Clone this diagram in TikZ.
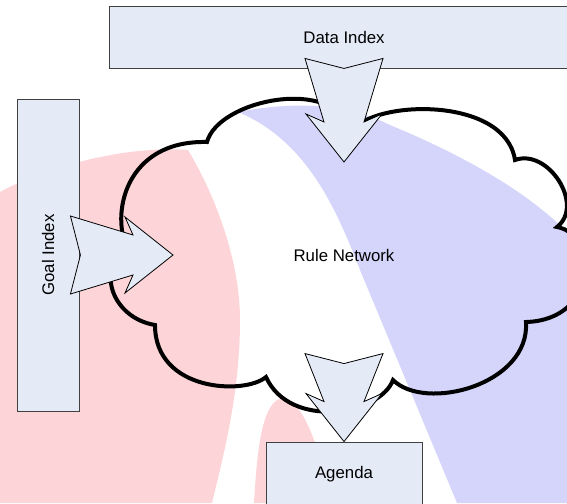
\documentclass[tikz,border=0pt]{standalone}
\usepackage{fontspec}
\setmainfont{Liberation Sans}
\usetikzlibrary{calc}
\definecolor{boxfill}{RGB}{228,235,247}
\definecolor{pinkbg}{RGB}{253,213,216}
\definecolor{lilacbg}{RGB}{213,213,251}

% block arrow with notched tail, from tail point #1 to tip #2
\newcommand{\fatarrow}[2]{%
  \draw[fatarr] ($(#1)!39pt!90:(#2)$) -- ($(#1)!10pt!(#2)$) -- ($(#1)!39pt!-90:(#2)$)
    -- ($(#2)!40pt!(#1)!20pt!90:(#1)$) -- ($(#2)!48pt!(#1)!38pt!90:(#1)$) -- (#2)
    -- ($(#2)!48pt!(#1)!38pt!-90:(#1)$) -- ($(#2)!40pt!(#1)!20pt!-90:(#1)$) -- cycle;}

\begin{document}
\begin{tikzpicture}[x=1pt, y=-1pt,
    box/.style={draw=black!75, line width=0.9pt, fill=boxfill, inner sep=0pt,
      font=\fontsize{16.8}{19}\selectfont},
    fatarr/.style={draw=black, line width=0.8pt, fill=boxfill, line join=miter},
    cloudline/.style={draw=black, line width=4pt, line join=miter}]

  \useasboundingbox (0,0) rectangle (567,503);

  % faded logo behind
  \fill[pinkbg] (0,192) .. controls (40,170) and (120,145) .. (188,150)
    .. controls (215,195) and (240,260) .. (240,320)
    .. controls (240,390) and (225,450) .. (212,503) -- (0,503) -- cycle;
  \fill[pinkbg] (254,503) .. controls (257,450) and (262,400) .. (283,398)
    .. controls (300,398) and (318,440) .. (332,503) -- cycle;
  \fill[lilacbg] (238,112) .. controls (300,100) and (350,105) .. (390,125)
    .. controls (450,150) and (520,185) .. (567,232) -- (567,503) -- (457,503)
    -- (360,270) .. controls (335,205) and (305,140) .. cycle;

  % cloud
  \draw[cloudline] (207,142)
    .. controls (218,100) and (335,75) .. (352,132)
    .. controls (370,100) and (505,95) .. (515,160)
    .. controls (548,148) and (585,205) .. (557,227)
    .. controls (600,235) and (598,320) .. (526,322)
    .. controls (530,385) and (425,412) .. (393,380)
    .. controls (380,415) and (290,430) .. (266,377)
    .. controls (245,395) and (155,392) .. (155,325)
    .. controls (112,318) and (95,268) .. (128,250)
    .. controls (110,215) and (125,140) .. cycle;

  \node[box, minimum width=470pt, minimum height=62pt] (data) at (344,37) {Data Index};
  \node[box, minimum width=62pt, minimum height=312pt] (goal) at (48,255) {\rotatebox{90}{Goal Index}};
  \node[box, minimum width=156pt, minimum height=64pt] (agenda) at (344,474) {Agenda};
  \node[font=\fontsize{16.8}{19}\selectfont] (net) at (344,255) {Rule Network};

  \coordinate (dtail) at ($(data.south)+(0,-10)$);
  \coordinate (dtip) at ($(net)+(0,-93)$);
  \coordinate (gtail) at ($(goal.east)+(-9,0)$);
  \coordinate (gtip) at ($(net)+(-171,0)$);
  \coordinate (atail) at ($(agenda.north)+(0,-88)$);

  \fatarrow{dtail}{dtip}
  \fatarrow{gtail}{gtip}
  \fatarrow{atail}{agenda.north}
\end{tikzpicture}
\end{document}
